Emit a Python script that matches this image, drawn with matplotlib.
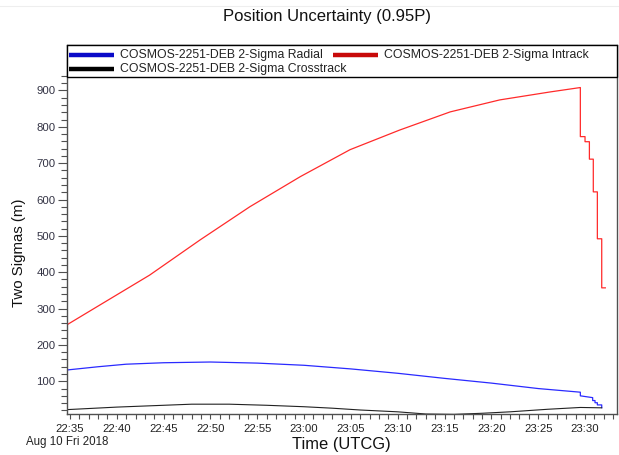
import matplotlib
matplotlib.use("Agg")
import matplotlib.pyplot as plt
import matplotlib.dates as mdates
from matplotlib.ticker import FixedLocator
from matplotlib.lines import Line2D
from matplotlib.patches import Rectangle
import pandas as pd

plt.rcParams['font.family'] = ['Liberation Sans', 'DejaVu Sans']

DAY = "2018-08-10 "

# 2-sigma intrack (m)
intrack_t = ["22:34:39", "22:38:12", "22:43:30", "22:48:54", "22:54:12", "22:59:36",
             "23:04:54", "23:10:12", "23:15:36", "23:20:54", "23:26:18", "23:29:30",
             "23:29:30", "23:30:00", "23:30:00", "23:30:28", "23:30:28", "23:30:53",
             "23:30:53", "23:31:19", "23:31:19", "23:31:47", "23:31:47", "23:32:10"]
intrack_v = [255, 310, 392, 489, 580, 663,
             737, 791, 841, 874, 896, 908,
             773, 773, 759, 759, 711, 711,
             621, 621, 492, 492, 357, 357]

# 2-sigma radial (m)
radial_t = ["22:34:39", "22:38:00", "22:41:00", "22:45:00", "22:50:00", "22:55:00",
            "23:00:00", "23:05:00", "23:10:00", "23:15:00", "23:20:00", "23:25:00",
            "23:29:30", "23:29:30", "23:30:49", "23:30:49", "23:31:04", "23:31:04",
            "23:31:19", "23:31:19", "23:31:47", "23:31:47"]
radial_v = [131, 140, 147, 151, 153, 150,
            144, 134, 122, 108, 95, 80,
            70, 60, 55, 47, 47, 41,
            41, 35, 35, 27.5]

# 2-sigma crosstrack (m)
cross_t = ["22:34:39", "22:40:00", "22:45:00", "22:48:00", "22:52:00", "22:56:00",
           "23:00:00", "23:03:00", "23:06:00", "23:10:00", "23:13:00", "23:16:00",
           "23:19:00", "23:22:00", "23:26:00", "23:29:30", "23:31:47"]
cross_v = [22, 29, 34, 37, 37, 34,
           30, 26, 21, 16, 10, 9,
           12, 16, 23, 28, 27]

legend_labels = ["COSMOS-2251-DEB 2-Sigma Radial",
                 "COSMOS-2251-DEB 2-Sigma Intrack",
                 "COSMOS-2251-DEB 2-Sigma Crosstrack"]


def to_time(ts):
    return pd.to_datetime([DAY + t for t in ts])


fig = plt.figure(figsize=(6.19, 4.55), dpi=100)
ax = fig.add_axes([0.1078, 0.0901, 0.8890, 0.8110])

ax.plot(to_time(intrack_t), intrack_v, color="#ff2a2a", lw=0.9)
ax.plot(to_time(radial_t), radial_v, color="#2a2aff", lw=0.9)
ax.plot(to_time(cross_t), cross_v, color="#222222", lw=0.8)

ax.set_xlim(pd.Timestamp(DAY + "22:34:39"), pd.Timestamp(DAY + "23:33:25"))
ax.set_ylim(10, 1025)

ax.xaxis.set_major_locator(mdates.MinuteLocator(byminute=range(0, 60, 5)))
ax.xaxis.set_minor_locator(mdates.MinuteLocator())
ax.xaxis.set_major_formatter(mdates.DateFormatter("%H:%M"))
ax.yaxis.set_major_locator(FixedLocator(list(range(100, 1000, 100))))
ax.yaxis.set_minor_locator(FixedLocator(list(range(20, 941, 20))))

spine_c = "#505050"
for s in ax.spines.values():
    s.set_color(spine_c)
    s.set_linewidth(1.0)
ax.tick_params(axis="x", which="both", length=3.6, width=0.8, color=spine_c,
               labelsize=8.2, labelcolor="#222222", pad=3.4)
ax.tick_params(axis="y", which="major", length=6.5, width=0.8, color=spine_c,
               labelsize=8.2, labelcolor="#333344", pad=1.5)
ax.tick_params(axis="y", which="minor", length=4.0, width=0.8, color=spine_c)

# legend box across the top of the plot area
ax.add_patch(Rectangle((0, 0.913), 1, 0.087, transform=ax.transAxes,
                       facecolor="white", edgecolor="black", lw=1.0,
                       zorder=5, clip_on=False))
entries = [(0.004, 0.973, "#0a0ac8", legend_labels[0]),
           (0.484, 0.973, "#c80a0a", legend_labels[1]),
           (0.004, 0.934, "#000000", legend_labels[2])]
for x0, y0, c, lab in entries:
    ax.add_line(Line2D([x0, x0 + 0.081], [y0, y0], transform=ax.transAxes,
                       color=c, lw=3.2, zorder=6, solid_capstyle="butt"))
    ax.text(x0 + 0.093, y0, lab, transform=ax.transAxes, fontsize=8.8,
            va="center", ha="left", color="#222222", zorder=6)

fig.text(327 / 619, 1 - 17 / 455, "Position Uncertainty (0.95P)",
         ha="center", va="center", fontsize=12, color="#111111")
fig.text(19 / 619, 1 - 253 / 455, "Two Sigmas (m)", rotation=90,
         ha="center", va="center", fontsize=10.8, color="#111111")
fig.text(341 / 619, 1 - 444 / 455, "Time (UTCG)",
         ha="center", va="center", fontsize=11.9, color="#111111")
fig.text(26 / 619, 1 - 442 / 455, "Aug 10 Fri 2018",
         ha="left", va="center", fontsize=8.3, color="#222222")

fig.add_artist(Line2D([0, 1], [1 - 6 / 455, 1 - 6 / 455], transform=fig.transFigure,
                      color="#eeeeee", lw=0.8))

fig.savefig("out.png", dpi=100)
